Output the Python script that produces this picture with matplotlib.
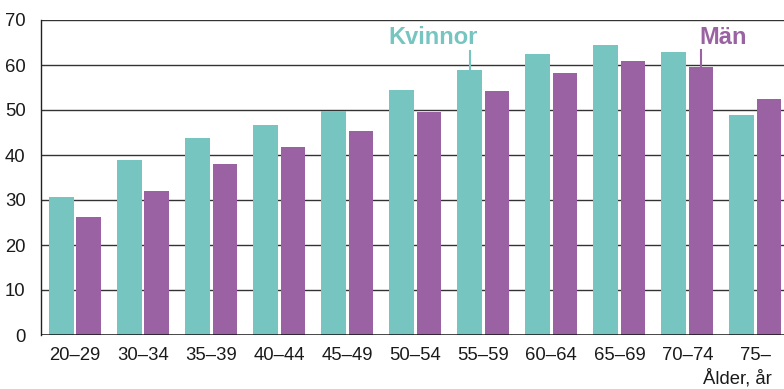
import numpy as np
import matplotlib.pyplot as plt

plt.rc('font', family='Liberation Sans')

#-------------------------------------------------------------------------------
#DATA

ages = ['20–29', '30–34', '35–39', '40–44', '45–49', '50–54',
        '55–59', '60–64', '65–69', '70–74', '75–']
kvinnor = [30.7, 38.9, 43.8, 46.7, 49.8, 54.4, 58.9, 62.4, 64.4, 62.9, 48.9]
man = [26.2, 32.0, 38.0, 41.8, 45.3, 49.6, 54.2, 58.2, 60.9, 59.6, 52.4]
yticks = [0, 10, 20, 30, 40, 50, 60, 70]

c_kv = '#76c5c1'
c_man = '#9b62a3'

#-------------------------------------------------------------------------------
#PLOT

fig = plt.figure(figsize=(7.84, 3.89), dpi=100)
ax = fig.add_axes([41/784, 1 - 335/389, (784 - 41)/784, (335 - 20)/389])

x = np.arange(len(ages))
off = 0.2
w = 0.363
ax.bar(x - off, kvinnor, w, color=c_kv, zorder=3)
ax.bar(x + off, man, w, color=c_man, zorder=3)

#grid lines
for v in yticks[1:]:
    ax.axhline(v, color='#333333', lw=1.0, zorder=1)
ax.axhline(0, color='#111111', lw=1.8, zorder=4)

ax.set_xlim(-0.503, 10.42)
ax.set_ylim(0, 70)
ax.set_yticks(yticks)
ax.set_xticks(x)
ax.set_xticklabels(ages)
ax.tick_params(axis='both', length=0, labelsize=13.3, colors='#1a1a1a')
ax.tick_params(axis='y', pad=11)
ax.tick_params(axis='x', pad=9)

for s in ['top', 'right', 'bottom']:
    ax.spines[s].set_visible(False)
ax.spines['left'].set_color('#222222')
ax.spines['left'].set_linewidth(1.0)

#series labels with leader lines
ax.text(4.6, 66.2, 'Kvinnor', color=c_kv, fontsize=17, fontweight='bold',
        ha='left', va='center')
ax.plot([6 - off, 6 - off], [63.1, kvinnor[6]], color=c_kv, lw=1.5, zorder=3)
ax.text(9.17, 66.2, 'Män', color=c_man, fontsize=17, fontweight='bold',
        ha='left', va='center')
ax.plot([9 + off, 9 + off], [63.3, man[9]], color=c_man, lw=1.5, zorder=3)

fig.text(772/784, 1 - 378/389, 'Ålder, år', fontsize=13.3, color='#1a1a1a',
         ha='right', va='center')

plt.savefig('out.png', dpi=100)
